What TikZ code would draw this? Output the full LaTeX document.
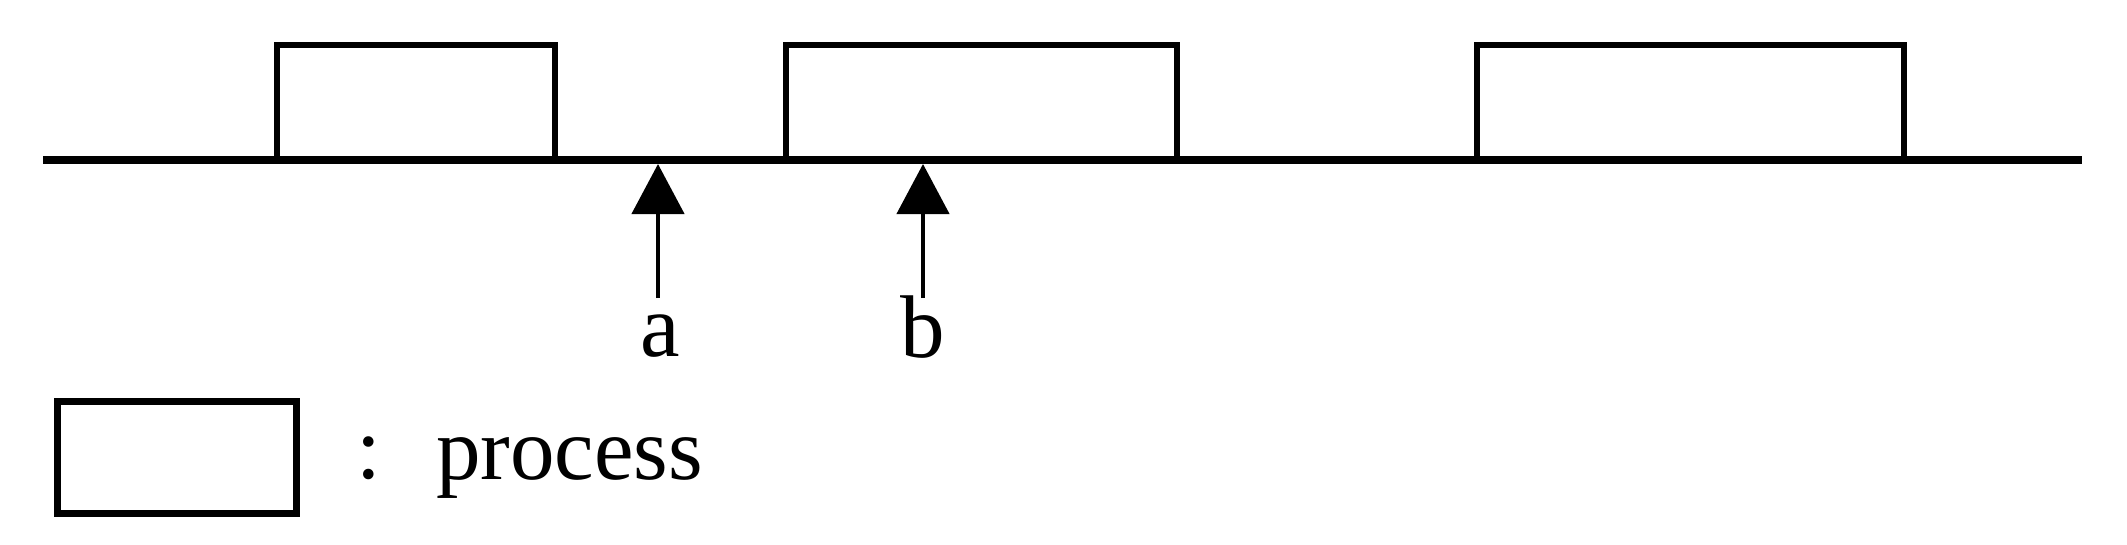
\documentclass[tikz,border=0pt]{standalone}
\usepackage{fontspec}
\setmainfont{Liberation Serif}
\usetikzlibrary{arrows.meta}
\tikzset{
  procbox/.style={draw=black, line width=5.5pt, fill=none, inner sep=0pt, outer sep=0pt},
  legbox/.style={procbox, line width=6.5pt},
  mainline/.style={line width=8.5pt, line cap=butt},
  uparrow/.style={line width=4.5pt, -{Triangle[length=50pt,width=52pt]}},
  lbl/.style={inner sep=0pt, outer sep=0pt, anchor=base, font=\fontsize{89}{100}\selectfont}
}
\begin{document}
\begin{tikzpicture}[x=1pt,y=-1pt]
\useasboundingbox (0,0) rectangle (2127,544);
% process boxes on the time line
\node[procbox, minimum width=278pt, minimum height=115pt] (p1) at (416,102.5) {};
\node[procbox, minimum width=391pt, minimum height=115pt] (p2) at (981.5,102.5) {};
\node[procbox, minimum width=427pt, minimum height=115pt] (p3) at (1690.5,102.5) {};
% time line
\coordinate (L) at (43,160);
\coordinate (R) at (2082,160);
\draw[mainline] (L) -- (R);
% arrows
\coordinate (aTail) at (658,298);
\coordinate (aTip) at (658,164);
\coordinate (bTail) at (923,298);
\coordinate (bTip) at (923,164);
\draw[uparrow] (aTail) -- (aTip);
\draw[uparrow] (bTail) -- (bTip);
\node[lbl] (la) at (660,356) {a};
\node[lbl] (lb) at (923,357) {b};
% legend
\node[legbox, minimum width=239pt, minimum height=112pt] (leg) at (177,457.5) {};
\node[lbl] (colon) at (369,478) {:};
\node[lbl, anchor=base west] (proc) at (436,479) {process};
\end{tikzpicture}
\end{document}
